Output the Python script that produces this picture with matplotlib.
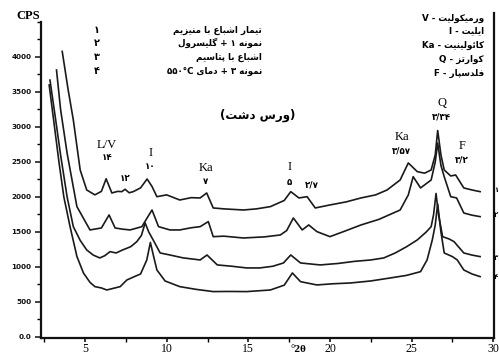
import re
import matplotlib
matplotlib.use("Agg")
import matplotlib.pyplot as plt
from matplotlib.ticker import MultipleLocator, FixedLocator, FixedFormatter
from matplotlib.lines import Line2D

# ---------------- data ----------------
x1 = [3.6, 3.95, 4.28, 4.7, 5.1, 5.6, 6.0, 6.29, 6.64, 7.0, 7.25, 7.45, 7.7, 7.95, 8.4, 8.8, 9.1, 9.4,
      10.0, 10.8, 11.5, 12.05, 12.45, 12.85, 13.5, 14.7, 15.5, 16.35, 17.2, 17.6, 18.1, 18.6, 19.1, 20.0,
      21.0, 21.9, 22.8, 23.5, 24.3, 24.8, 25.35, 25.8, 26.2, 26.45, 26.6, 26.8, 27.0, 27.4, 27.7, 28.2, 28.7, 29.2]
y1 = [4080, 3550, 3100, 2386, 2100, 2030, 2080, 2260, 2057, 2080, 2076, 2110, 2060, 2076, 2130, 2257, 2150, 2004,
      2030, 1957, 1990, 1986, 2057, 1843, 1830, 1814, 1830, 1862, 1950, 2076, 1986, 2004, 1843, 1886,
      1930, 1986, 2030, 2100, 2243, 2486, 2362, 2340, 2386, 2600, 2950, 2600, 2386, 2300, 2314, 2129, 2100, 2076]

x2 = [3.25, 3.5, 3.9, 4.5, 5.3, 6.0, 6.47, 6.84, 7.3, 7.76, 8.48, 8.8, 9.1, 9.5, 10.2, 10.8, 11.5, 12.05,
      12.55, 12.85, 13.5, 14.7, 16.0, 16.96, 17.35, 17.76, 18.3, 18.7, 19.2, 20.0, 21.0, 21.9, 23.0, 24.3,
      24.8, 25.1, 25.55, 26.2, 26.45, 26.6, 26.8, 27.0, 27.4, 27.76, 28.2, 28.7, 29.2]
y2 = [3814, 3250, 2624, 1862, 1529, 1557, 1743, 1557, 1540, 1529, 1576, 1700, 1814, 1576, 1529, 1529, 1560, 1576,
      1648, 1433, 1440, 1414, 1430, 1457, 1520, 1700, 1529, 1600, 1505, 1433, 1520, 1600, 1680, 1814,
      2029, 2290, 2129, 2243, 2500, 2771, 2450, 2290, 2004, 1986, 1771, 1740, 1719]

x3 = [2.85, 3.2, 3.5, 3.9, 4.28, 4.7, 5.1, 5.5, 5.9, 6.2, 6.53, 6.9, 7.3, 7.8, 8.17, 8.45, 8.68, 8.9, 9.17,
      9.6, 10.2, 11.0, 12.05, 12.47, 13.1, 14.0, 14.9, 15.7, 16.5, 17.15, 17.6, 18.2, 19.4, 20.5, 21.5, 22.5,
      23.3, 24.0, 24.7, 25.35, 25.9, 26.2, 26.35, 26.5, 26.65, 26.9, 27.3, 27.6, 28.2, 28.7, 29.2]
y3 = [3670, 3100, 2600, 2000, 1576, 1380, 1243, 1170, 1129, 1160, 1219, 1200, 1243, 1290, 1362, 1450, 1629, 1500, 1386,
      1200, 1171, 1130, 1100, 1171, 1029, 1010, 986, 986, 1010, 1057, 1171, 1057, 1029, 1050, 1080, 1100,
      1129, 1200, 1290, 1386, 1500, 1576, 1750, 2050, 1750, 1433, 1400, 1362, 1200, 1170, 1148]

x4 = [2.8, 3.1, 3.4, 3.7, 4.08, 4.5, 4.9, 5.3, 5.6, 6.0, 6.33, 7.15, 7.56, 8.0, 8.4, 8.78, 9.0, 9.2, 9.4, 9.9,
      10.8, 11.8, 12.85, 13.8, 14.9, 16.35, 17.2, 17.7, 18.2, 19.2, 20.2, 21.25, 22.5, 23.7, 24.7, 25.55,
      25.95, 26.27, 26.45, 26.6, 26.8, 27.0, 27.5, 27.8, 28.2, 28.7, 29.2]
y4 = [3600, 3050, 2500, 2000, 1576, 1150, 914, 780, 719, 700, 671, 719, 814, 860, 900, 1100, 1350, 1150, 957, 800,
      719, 680, 648, 650, 648, 671, 740, 914, 790, 743, 760, 771, 800, 843, 880, 933,
      1100, 1386, 1600, 1900, 1500, 1200, 1148, 1100, 957, 900, 862]

y_ticks = [0, 500, 1000, 1500, 2000, 2500, 3000, 3500, 4000]
y_ticklabels = ["0.0", "500", "1000", "1500", "2000", "2500", "3000", "3500", "4000"]
x_ticks = [5, 10, 15, 20, 25, 30]
x_ticklabels = ["5", "10", "15", "20", "25", "30"]

treat_nums = ["۱", "۲", "۳", "۴"]
treat_texts = ["تیمار اشباع با منیزیم", "نمونه ۱ + گلیسرول", "اشباع با پتاسیم", "نمونه ۳ + دمای ۵۵۰°C"]
mineral_codes = ["V", "I", "Ka", "Q", "F"]
mineral_names = ["ورمیکولیت", "ایلیت", "کائولینیت", "کوارتز", "فلدسپار"]
title_text = "(ورس دشت)"

peak_names = ["L/V", "I", "Ka", "I", "Ka", "Q", "F"]
peak_pos = [6.35, 9.0, 12.4, 17.5, 24.4, 26.85, 28.1]
peak_d = ["۱۴", "۱۰", "۷", "۵", "۳/۵۷", "۳/۳۴", "۳/۲"]
extra_d = ["۱۲", "۲/۷"]
extra_pos = [7.45, 18.9]

# ---------------- Persian shaping (presentation forms + visual order) ----------------
FORMS = {
    'ا': ('\uFE8D', '\uFE8E', None, None), 'ب': ('\uFE8F', '\uFE90', '\uFE91', '\uFE92'),
    'پ': ('\uFB56', '\uFB57', '\uFB58', '\uFB59'), 'ت': ('\uFE95', '\uFE96', '\uFE97', '\uFE98'),
    'د': ('\uFEA9', '\uFEAA', None, None), 'ر': ('\uFEAD', '\uFEAE', None, None),
    'ز': ('\uFEAF', '\uFEB0', None, None), 'س': ('\uFEB1', '\uFEB2', '\uFEB3', '\uFEB4'),
    'ش': ('\uFEB5', '\uFEB6', '\uFEB7', '\uFEB8'), 'ع': ('\uFEC9', '\uFECA', '\uFECB', '\uFECC'),
    'ف': ('\uFED1', '\uFED2', '\uFED3', '\uFED4'), 'ک': ('\uFB8E', '\uFB8F', '\uFB90', '\uFB91'),
    'گ': ('\uFB92', '\uFB93', '\uFB94', '\uFB95'), 'ل': ('\uFEDD', '\uFEDE', '\uFEDF', '\uFEE0'),
    'م': ('\uFEE1', '\uFEE2', '\uFEE3', '\uFEE4'), 'ن': ('\uFEE5', '\uFEE6', '\uFEE7', '\uFEE8'),
    'و': ('\uFEED', '\uFEEE', None, None), 'ه': ('\uFEE9', '\uFEEA', '\uFEEB', '\uFEEC'),
    'ی': ('\uFBFC', '\uFBFD', '\uFBFE', '\uFBFF'), 'ئ': ('\uFE89', '\uFE8A', '\uFE8B', '\uFE8C'),
}
LTR = r'[0-9\u06F0-\u06F9A-Za-z°./%]+'
MIRROR = str.maketrans('()', ')(')


def fa(s):
    out = []
    n = len(s)
    for i, c in enumerate(s):
        if c in FORMS:
            prev = s[i - 1] if i > 0 else ''
            nxt = s[i + 1] if i < n - 1 else ''
            jp = prev in FORMS and FORMS[prev][2] is not None
            jn = nxt in FORMS and FORMS[c][2] is not None
            iso, fin, ini, med = FORMS[c]
            if jp and jn:
                out.append(med)
            elif jp:
                out.append(fin)
            elif jn:
                out.append(ini)
            else:
                out.append(iso)
        else:
            out.append(c)
    shaped = ''.join(out)
    runs = re.findall(LTR + '|[^0-9\u06F0-\u06F9A-Za-z°./%]+', shaped)
    vis = []
    for r in reversed(runs):
        if re.fullmatch(LTR, r):
            vis.append(r)
        else:
            vis.append(r[::-1].translate(MIRROR))
    return ''.join(vis)


# ---------------- figure ----------------
W, H = 499, 354
fig = plt.figure(figsize=(W / 100, H / 100), dpi=100)
ax = fig.add_axes([41 / W, 1 - 338 / H, (494 - 41) / W, (338 - 22) / H])
ax.set_xlim(2.3, 30.05)
ax.set_ylim(-15, 4500)

lc = '#1a1a1a'
for xs, ys in [(x1, y1), (x2, y2), (x3, y3), (x4, y4)]:
    ax.plot(xs, ys, color=lc, lw=1.2, solid_joinstyle='round')

for side in ['top', 'right']:
    ax.spines[side].set_visible(False)
for side in ['left', 'bottom']:
    ax.spines[side].set_linewidth(1.6)
    ax.spines[side].set_color('#111111')

ax.yaxis.set_major_locator(FixedLocator(y_ticks))
ax.yaxis.set_major_formatter(FixedFormatter(y_ticklabels))
ax.yaxis.set_minor_locator(MultipleLocator(250))
ax.xaxis.set_major_locator(FixedLocator(x_ticks))
ax.xaxis.set_major_formatter(FixedFormatter(x_ticklabels))
ax.xaxis.set_minor_locator(MultipleLocator(2.5))
ax.tick_params(axis='y', which='major', direction='out', length=4, width=1.1, labelsize=5.2, pad=3, colors='#111111')
ax.tick_params(axis='y', which='minor', direction='out', length=3, width=1.0)
ax.tick_params(axis='x', which='major', direction='out', length=3, width=1.1, labelsize=8.5, pad=0.5)
ax.tick_params(axis='x', which='minor', direction='out', length=3, width=1.0)
for t in ax.get_xticklabels():
    t.set_family('Liberation Serif')
for t in ax.get_yticklabels():
    t.set_fontweight('bold')

# right frame line
fig.add_artist(Line2D([494 / W, 494 / W], [1 - 338 / H, 1 - 13 / H], color='#111111', lw=1.6))

# CPS
fig.text(28 / W, 1 - 16 / H, "CPS", family='Liberation Serif', fontweight='bold', fontsize=9,
         ha='center', va='center')

# treatment legend
tys = [30, 43, 57, 71]
for num, txt, py in zip(treat_nums, treat_texts, tys):
    fig.text(97 / W, 1 - py / H, num, family='DejaVu Sans', fontweight='bold', fontsize=7,
             ha='center', va='center')
    fig.text(262 / W, 1 - py / H, fa(txt), family='DejaVu Sans', fontweight='bold', fontsize=6.3,
             ha='right', va='center')

# mineral legend
mys = [18, 31, 45, 59, 73]
for code, name, py in zip(mineral_codes, mineral_names, mys):
    fig.text(484 / W, 1 - py / H, code + " - " + fa(name), family='DejaVu Sans', fontsize=6.3,
             fontweight='bold', ha='right', va='center')

# title
fig.text(258 / W, 1 - 115 / H, fa(title_text), family='DejaVu Sans', fontweight='bold', fontsize=8.5,
         ha='center', va='center')

# peak labels
name_y = [2740, 2630, 2414, 2430, 2860, 3340, 2730]
d_y = [2560, 2430, 2214, 2200, 2650, 3140, 2530]
for nm, xp, d, ny, dy in zip(peak_names, peak_pos, peak_d, name_y, d_y):
    ax.text(xp, ny, nm, family='Liberation Serif', fontsize=9, ha='center', va='center')
    ax.text(xp, dy, d, family='DejaVu Sans', fontweight='bold', fontsize=6.3, ha='center', va='center')
for d, xp, yy in zip(extra_d, extra_pos, [2270, 2170]):
    ax.text(xp, yy, d, family='DejaVu Sans', fontweight='bold', fontsize=6.3, ha='center', va='center')

# curve numbers at the right edge, outside the frame line
for num, py in zip(treat_nums, [190, 215, 258, 277]):
    fig.text(498.5 / W, 1 - py / H, num, family='DejaVu Sans', fontweight='bold', fontsize=5,
             ha='right', va='center')

# x label
fig.text(298 / W, 1 - 349 / H, "°2θ", family='Liberation Serif', fontweight='bold', fontsize=8,
         ha='center', va='center')

fig.savefig("out.png", dpi=100)
